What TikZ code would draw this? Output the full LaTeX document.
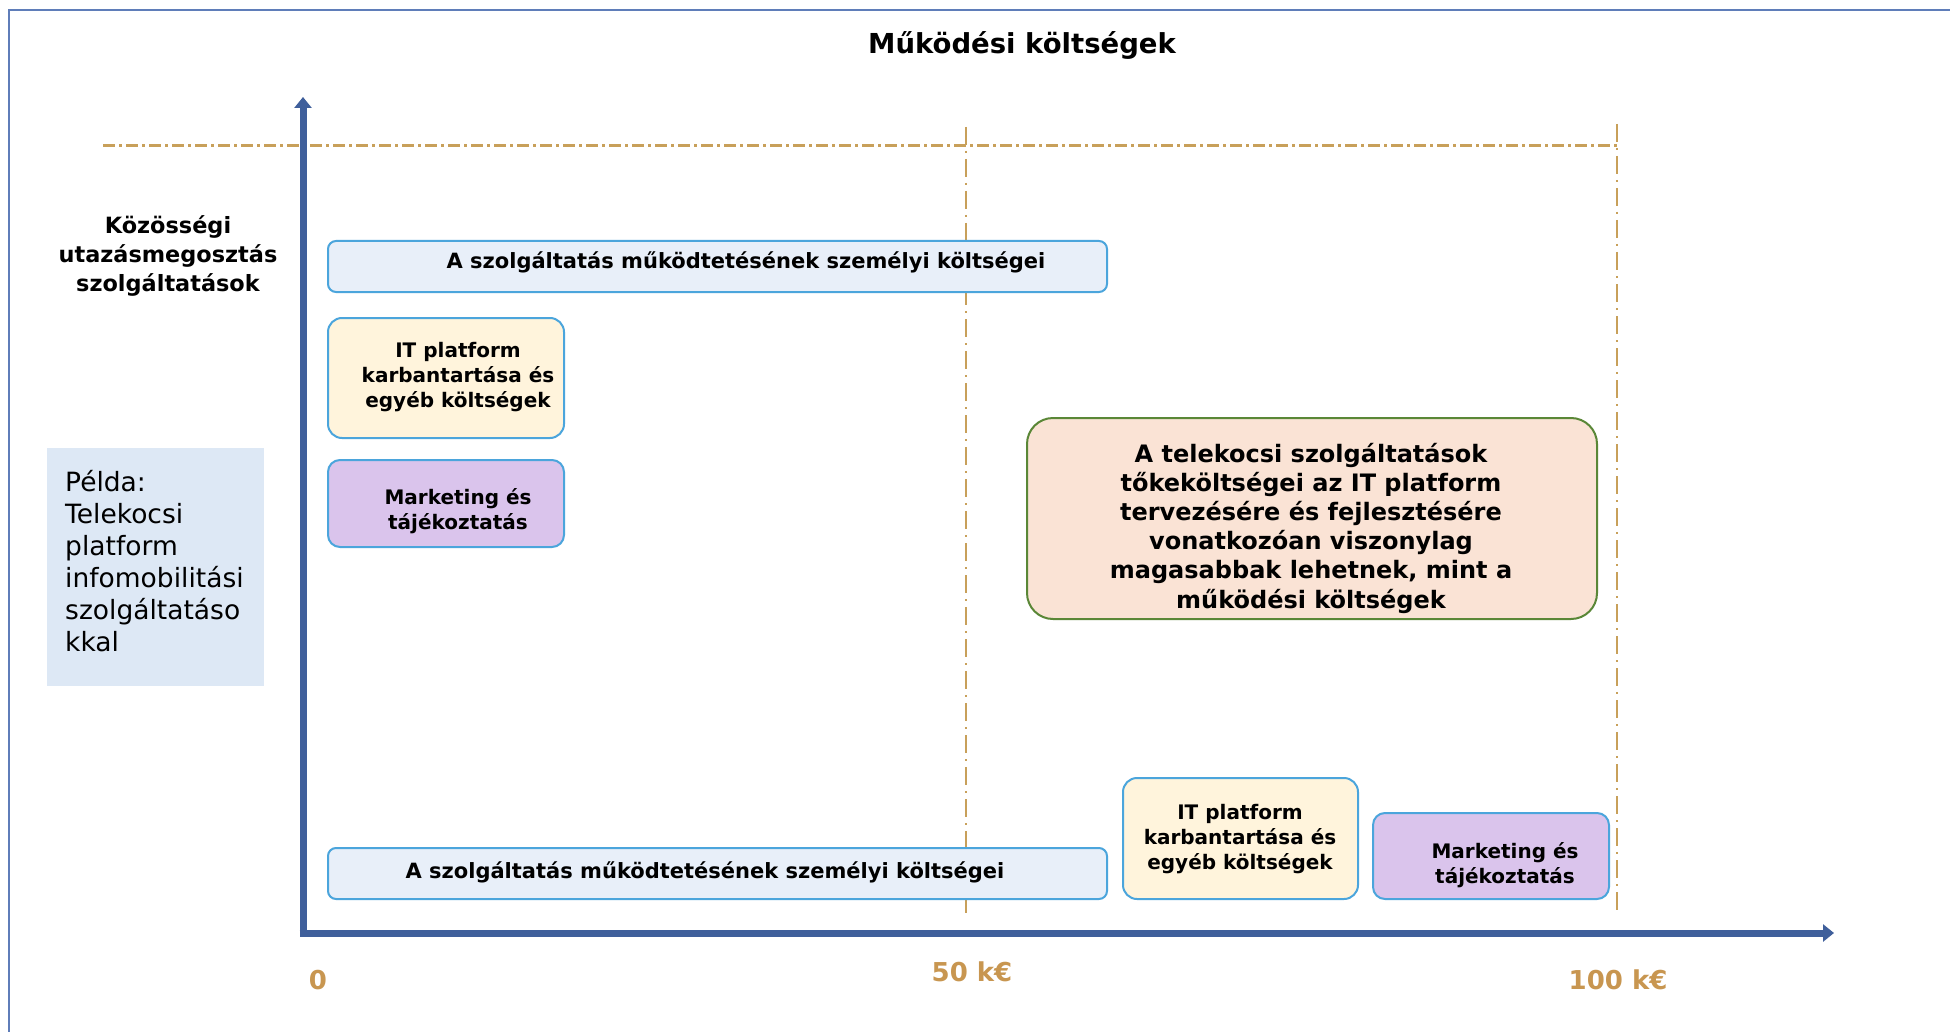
\documentclass[tikz,border=0pt]{standalone}
\usepackage{fontspec}
\setmainfont{DejaVu Sans}
\usetikzlibrary{arrows.meta}
\definecolor{pcfill}{RGB}{232,239,249}
\definecolor{boxedge}{RGB}{75,165,220}
\definecolor{itfill}{RGB}{255,244,220}
\definecolor{mkfill}{RGB}{218,196,236}
\definecolor{bigfill}{RGB}{250,227,213}
\definecolor{bigedge}{RGB}{90,135,55}
\definecolor{peldafill}{RGB}{221,232,245}
\definecolor{axiscol}{RGB}{63,95,155}
\definecolor{dashcol}{RGB}{200,160,90}
\definecolor{tickcol}{RGB}{200,150,80}
\definecolor{framecol}{RGB}{95,125,185}
\begin{document}
\begin{tikzpicture}[x=1pt,y=-1pt,
  boxbase/.style={draw=boxedge, line width=2pt, anchor=north west, inner sep=0pt},
  pcbox/.style={boxbase, fill=pcfill, rounded corners=8pt},
  itbox/.style={boxbase, fill=itfill, rounded corners=14pt},
  mkbox/.style={boxbase, fill=mkfill, rounded corners=12pt},
  bigbox/.style={draw=bigedge, line width=2pt, fill=bigfill, rounded corners=26pt, anchor=north west, inner sep=0pt},
  smalltxt/.style={font=\fontsize{20}{25}\selectfont\bfseries, align=center, inner sep=0pt},
  pctxt/.style={font=\fontsize{21}{25}\selectfont\bfseries, align=center, inner sep=0pt},
  bigtxt/.style={font=\fontsize{24}{29.2}\selectfont\bfseries, align=center, inner sep=0pt},
  ticklbl/.style={font=\fontsize{26}{30}\selectfont\bfseries, text=tickcol, inner sep=0pt},
  axisline/.style={draw=axiscol, line width=7pt, -{Triangle[width=17pt,length=11pt]}},
  hdash/.style={draw=dashcol, line width=2.5pt, dash pattern=on 12pt off 4pt on 3pt off 4pt},
  vdash/.style={draw=dashcol, line width=2pt, dash pattern=on 18pt off 6pt on 2pt off 6pt}
]
\fill[white] (0,0) rectangle (1950,1032);
\useasboundingbox (0,0) rectangle (1950,1032);

% frame
\coordinate (fbl) at (9,1032);
\coordinate (ftl) at (9,10);
\coordinate (ftr) at (1950,10);
\draw[framecol, line width=2pt] (fbl) -- (ftl) -- (ftr);

% title
\node[font=\fontsize{27.5}{32}\selectfont\bfseries, inner sep=0pt] (title) at (1022,45) {Működési költségek};

% dash-dot guide lines
\coordinate (h1) at (103,145.5);
\coordinate (h2) at (1617,145.5);
\coordinate (v1a) at (966,127);
\coordinate (v1b) at (966,918);
\coordinate (v2a) at (1617,124);
\coordinate (v2b) at (1617,914);
\draw[hdash] (h1) -- (h2);
\draw[vdash] (v1a) -- (v1b);
\draw[vdash] (v2a) -- (v2b);

% axes
\coordinate (Oy) at (303,936.5);
\coordinate (Ox) at (299.5,933);
\coordinate (ytip) at (303,97);
\coordinate (xtip) at (1834,933);
\draw[axisline] (Oy) -- (ytip);
\draw[axisline] (Ox) -- (xtip);

% y label
\node[font=\fontsize{22.4}{29}\selectfont\bfseries, align=center, inner sep=0pt] (ylbl) at (168,256)
  {Közösségi\\utazásmegosztás\\szolgáltatások};

% example box
\node[fill=peldafill, anchor=north west, minimum width=217pt, minimum height=238pt, inner sep=0pt] (pelda) at (47,448) {};
\node[font=\fontsize{26.5}{32}\selectfont, align=left, anchor=west, inner sep=0pt] (peldatxt) at (65,561)
  {Példa:\\Telekocsi\\platform\\infomobilitási\\szolgáltatáso\\kkal};

% upper group
\node[pcbox, minimum width=779pt, minimum height=51pt] (pcTop) at (327,240) {};
\node[pctxt] (pcTopT) at (746,262.5) {A szolgáltatás működtetésének személyi költségei};

\node[itbox, minimum width=236pt, minimum height=120pt] (itTop) at (327,317) {};
\node[smalltxt] (itTopT) at (458,377.5) {IT platform\\karbantartása és\\egyéb költségek};

\node[mkbox, minimum width=236pt, minimum height=87pt] (mkTop) at (327,459) {};
\node[smalltxt] (mkTopT) at (458,511) {Marketing és\\tájékoztatás};

% big box
\node[bigbox, minimum width=570pt, minimum height=201pt] (big) at (1026,417) {};
\node[bigtxt] (bigT) at (1311,528) {A telekocsi szolgáltatások\\tőkeköltségei az IT platform\\tervezésére és fejlesztésére\\vonatkozóan viszonylag\\magasabbak lehetnek, mint a\\működési költségek};

% lower group
\node[pcbox, minimum width=779pt, minimum height=51pt] (pcBot) at (327,847) {};
\node[pctxt] (pcBotT) at (705,872.5) {A szolgáltatás működtetésének személyi költségei};

\node[itbox, minimum width=235pt, minimum height=121pt] (itBot) at (1122,777) {};
\node[smalltxt] (itBotT) at (1240,839) {IT platform\\karbantartása és\\egyéb költségek};

\node[mkbox, minimum width=236pt, minimum height=86pt] (mkBot) at (1372,812) {};
\node[smalltxt] (mkBotT) at (1505,865) {Marketing és\\tájékoztatás};

% tick labels
\node[ticklbl] (t0) at (318,980) {0};
\node[ticklbl] (t50) at (972,972) {50 k€};
\node[ticklbl] (t100) at (1618,980) {100 k€};
\end{tikzpicture}
\end{document}
